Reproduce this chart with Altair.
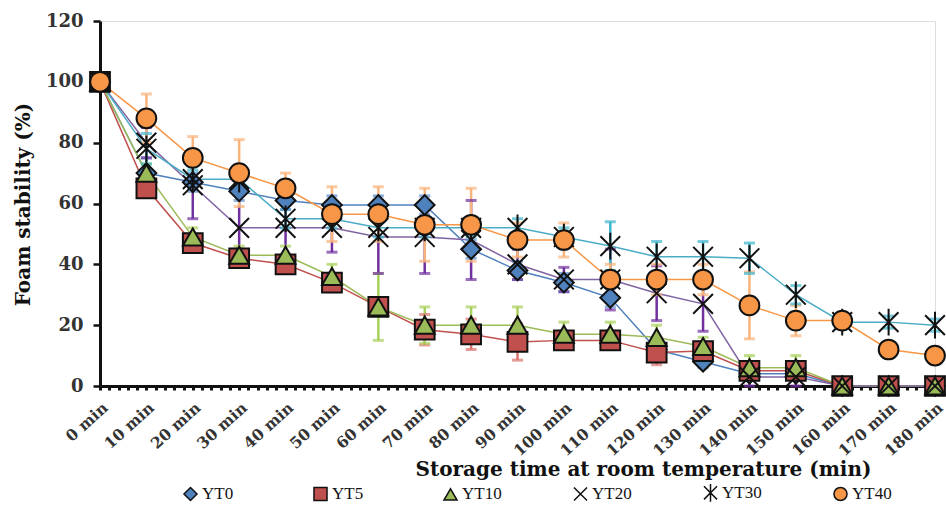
import altair as alt
import pandas as pd

times = list(range(0, 181, 10))
series = ["YT0", "YT5", "YT10", "YT20", "YT30", "YT40"]

yt0 = [100, 70, 67, 64, 61, 59.5, 59.5, 59.5, 45, 38, 34, 29, 12, 8, 4, 4, 0, 0, 0]
yt0_err = [0, 5, 3, 3, 3, 3, 3, 3, 3, 3, 3, 3, 2, 2, 2, 2, 0, 0, 0]
yt5 = [100, 65, 47, 42, 40, 34, 26, 18.5, 17, 14.5, 15, 15, 11, 11.5, 5, 5, 0, 0, 0]
yt5_err = [0, 2, 2, 3, 3, 3, 2, 5, 5, 6, 3, 3, 4, 3, 2, 2, 0, 0, 0]
yt10 = [100, 70, 49, 43, 43, 36, 26, 20, 20, 20, 17, 17, 16, 13, 6, 6, 0, 0, 0]
yt10_err = [0, 3, 3, 3, 3, 4, 11, 6, 6, 6, 4, 4, 4, 3, 4, 4, 0, 0, 0]
yt20 = [100, 80, 66, 52, 52, 52, 49, 49, 48, 40, 35, 35, 30.5, 27, 3, 3, 0, 0, 0]
yt20_err = [0, 5, 11, 12, 10, 8, 12, 12, 13, 5, 4, 10, 9, 9, 3, 3, 0, 0, 0]
yt30 = [100, 78, 68, 68, 55, 55, 52, 52, 52, 52, 49, 46, 42.5, 42.5, 42, 30, 21, 21, 20]
yt30_err = [0, 5, 3, 3, 3, 3, 3, 3, 3, 3, 3, 8, 5, 5, 5, 3, 2, 2, 2]
yt40 = [100, 88, 75, 70, 65, 56.5, 56.5, 53, 53, 48, 48, 35, 35, 35, 26.5, 21.5, 21.5, 12, 10]
yt40_err = [0, 8, 7, 11, 5, 9, 9, 12, 12, 5.6, 5.6, 5, 5, 5, 11, 5, 2, 2, 2]

values = [yt0, yt5, yt10, yt20, yt30, yt40]
errors = [yt0_err, yt5_err, yt10_err, yt20_err, yt30_err, yt40_err]

line_colors = ["#4F81BD", "#C0504D", "#9BBB59", "#8064A2", "#4BACC6", "#F79646"]
err_colors = ["#5B8FD0", "#D9736F", "#A8D05A", "#7030A0", "#3DB5CC", "#F9B47C"]
shapes = ["diamond", "square", "triangle-up",
          "M-1,-1L1,1M-1,1L1,-1",
          "M-1,-1L1,1M-1,1L1,-1M0,-1.35L0,1.35",
          "circle"]

rows = []
for i, (name, vals, errs) in enumerate(zip(series, values, errors)):
    for t, v, e in zip(times, vals, errs):
        rows.append({"series": name, "group": name, "order": i, "time": t,
                     "value": v, "lo": v - e, "hi": v + e, "err": e})
df = pd.DataFrame(rows)

font = "DejaVu Serif"

x_enc = alt.X("time:Q",
              scale=alt.Scale(domain=[0, 180], nice=False, zero=False),
              axis=alt.Axis(values=list(range(0, 181, 2)),
                            labelExpr="datum.value % 10 == 0 ? datum.value + ' min' : ''",
                            labelAngle=-42, labelAlign="right", labelBaseline="middle",
                            labelFont=font, labelFontWeight="bold", labelFontSize=15.5,
                            labelColor="#333333", labelPadding=15, labelOffset=5,
                            labelOverlap=False, labelFlush=False, labelBound=False,
                            tickSize=4, tickWidth=3, tickColor="#111111",
                            domainColor="#111111", domainWidth=3, grid=False,
                            title="Storage time at room temperature (min)",
                            titleFont=font, titleFontWeight="bold", titleFontSize=20,
                            titleColor="#111111", titleX=543, titleY=89,
                            titleAlign="center", titleBaseline="alphabetic"))

y_scale = alt.Scale(domain=[0, 120], nice=False)
y_enc_axis = alt.Axis(values=[0, 20, 40, 60, 80, 100, 120],
                      labelFont=font, labelFontWeight="bold", labelFontSize=18,
                      labelColor="#333333", labelPadding=10,
                      tickSize=7, tickWidth=2.5, tickColor="#111111",
                      domainColor="#111111", domainWidth=3, grid=False,
                      title="Foam stability (%)", titleFont=font, titleFontWeight="bold",
                      titleFontSize=20, titleColor="#111111", titleX=-77, titleY=183,
                      titleAngle=-90, titleAlign="center", titleBaseline="middle")


def yq(field):
    return alt.Y(field, scale=y_scale, axis=y_enc_axis)


base = alt.Chart(df)

lines = base.mark_line(strokeWidth=1.5).encode(
    x=x_enc,
    y=yq("value:Q"),
    stroke=alt.Stroke("series:N", scale=alt.Scale(domain=series, range=line_colors), legend=None),
    detail="series:N",
    order="time:Q",
)

err_df = base.transform_filter("datum.err > 0")

rules = err_df.mark_rule(strokeWidth=2.5).encode(
    x=x_enc,
    y=yq("lo:Q"),
    y2="hi:Q",
    stroke=alt.Stroke("group:N", scale=alt.Scale(domain=series, range=err_colors), legend=None),
)

caps_hi = err_df.mark_tick(orient="horizontal", size=11, thickness=3).encode(
    x=x_enc,
    y=yq("hi:Q"),
    fill=alt.Fill("group:N", scale=alt.Scale(domain=series, range=err_colors), legend=None),
)
caps_lo = err_df.mark_tick(orient="horizontal", size=11, thickness=3).encode(
    x=x_enc,
    y=yq("lo:Q"),
    fill=alt.Fill("group:N", scale=alt.Scale(domain=series, range=err_colors), legend=None),
)

points = base.mark_point(filled=True, stroke="#111111", strokeWidth=2, opacity=1, size=390).encode(
    x=x_enc,
    y=yq("value:Q"),
    color=alt.Color("series:N", scale=alt.Scale(domain=series, range=line_colors),
                    legend=alt.Legend(title=None, orient="none", direction="horizontal",
                                      legendX=82, legendY=463, columns=6,
                                      gridAlign="all", columnPadding=68,
                                      symbolSize=170, symbolStrokeColor="#111111",
                                      symbolStrokeWidth=1.5, labelFont="Liberation Serif",
                                      labelFontSize=17, labelColor="#111111", labelOffset=3)),
    shape=alt.Shape("series:N", scale=alt.Scale(domain=series, range=shapes)),
    order="order:Q",
)

chart = alt.layer(lines, rules, caps_hi, caps_lo, points).resolve_scale(
    stroke="independent", fill="independent"
).properties(
    width=835, height=365,
    padding={"left": 100, "top": 21, "right": 11, "bottom": 122},
    autosize=alt.AutoSizeParams(type="none"),
).configure_view(stroke=None).configure(background="white")

chart.save("out.html", embed_options={"renderer": "svg", "actions": False})
